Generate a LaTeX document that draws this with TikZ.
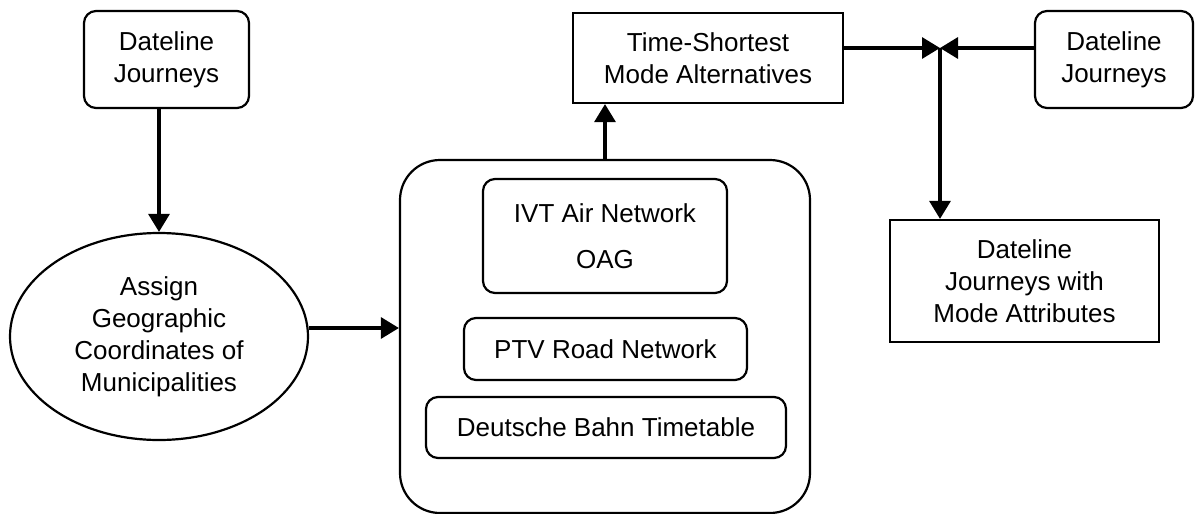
\documentclass[tikz,border=0pt]{standalone}
\usepackage{fontspec}
\setmainfont{Liberation Sans}
\usetikzlibrary{arrows.meta,positioning,shapes.geometric}
\tikzset{
  box/.style={draw=black,line width=1.1pt,align=center,inner sep=2pt,
    font=\fontsize{13}{16}\selectfont},
  rbox/.style={box,rounded corners=6pt},
  arrow/.style={-{Triangle[length=9pt,width=10.5pt]},line width=1.6pt}
}

\begin{document}
\begin{tikzpicture}[x=0.5pt,y=-0.5pt]
  \useasboundingbox (0,0) rectangle (1195,514);
  \node[rbox,minimum width=82.5pt,minimum height=48.5pt] (dlleft) at (166.5,59.5) {Dateline\\Journeys};
  \node[box,ellipse,minimum width=149pt,minimum height=103.5pt] (assign) at (159,336.5)
    {Assign\\Geographic\\Coordinates of\\Municipalities};
  \node[box,rounded corners=20pt,minimum width=205pt,minimum height=176.5pt] (networks) at (605,336.5) {};
  \node[rbox,minimum width=122pt,minimum height=57pt] (air) at (605,236) {IVT Air Network\\[7pt]OAG};
  \node[rbox,minimum width=141.5pt,minimum height=31pt] (road) at (605.5,349) {PTV Road Network};
  \node[rbox,minimum width=180pt,minimum height=30.5pt] (rail) at (606,427.5) {Deutsche Bahn Timetable};
  \node[box,minimum width=135pt,minimum height=45pt] (shortest) at (708,58) {Time-Shortest\\Mode Alternatives};
  \node[rbox,minimum width=79pt,minimum height=48.5pt] (dlright) at (1114,59.5) {Dateline\\Journeys};
  \node[box,minimum width=134.5pt,minimum height=61pt] (result) at (1024.5,281)
    {Dateline\\Journeys with\\Mode Attributes};
  \coordinate (join) at (940,48);

  \draw[arrow] (assign.north |- dlleft.south) -- (assign.north);
  \draw[arrow] ([yshift=4.25pt]assign.east) -- ([yshift=4.25pt]networks.west);
  \draw[arrow] (networks.north) -- (networks.north |- shortest.south);
  \draw[arrow] (shortest.east |- join) -- (join);
  \draw[arrow] (dlright.west |- join) -- (join);
  \draw[arrow] (join) -- (join |- result.north);
\end{tikzpicture}
\end{document}
